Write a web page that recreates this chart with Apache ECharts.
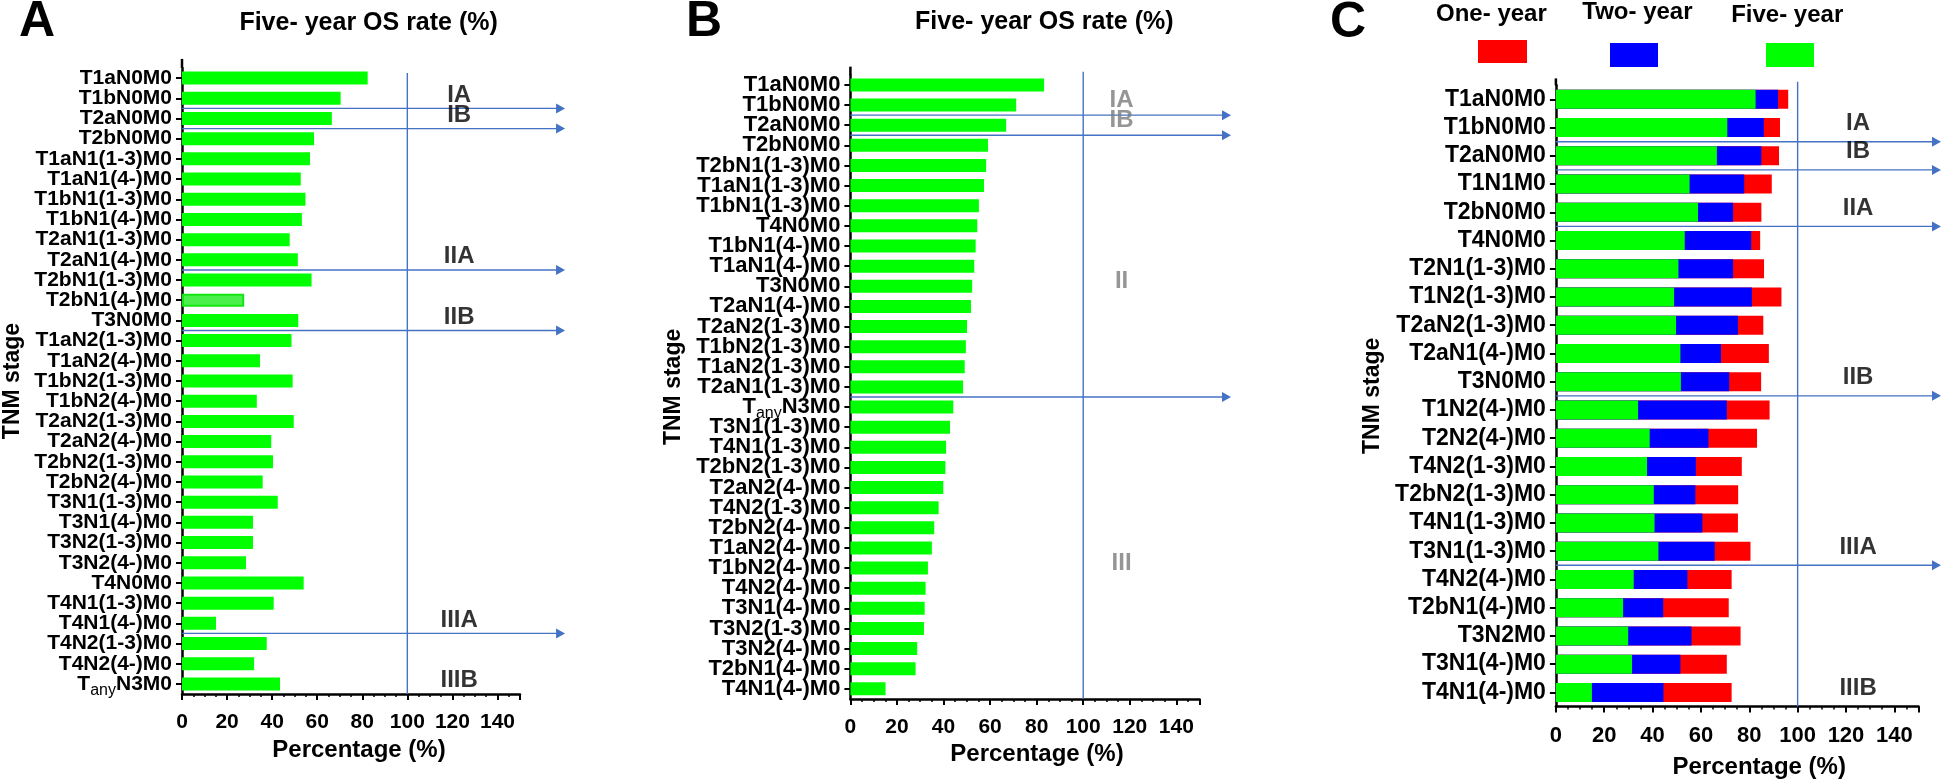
<!DOCTYPE html>
<html><head><meta charset="utf-8">
<script src="https://cdn.jsdelivr.net/npm/echarts/dist/echarts.min.js"></script>
<style>html,body{margin:0;padding:0;background:#fff}#chart{width:1946px;height:781px}</style>
</head><body><div id="chart"></div>
<script>
// ---------------- DATA ----------------
const categoriesA = ['T1aN0M0','T1bN0M0','T2aN0M0','T2bN0M0','T1aN1(1-3)M0','T1aN1(4-)M0','T1bN1(1-3)M0','T1bN1(4-)M0','T2aN1(1-3)M0','T2aN1(4-)M0','T2bN1(1-3)M0','T2bN1(4-)M0','T3N0M0','T1aN2(1-3)M0','T1aN2(4-)M0','T1bN2(1-3)M0','T1bN2(4-)M0','T2aN2(1-3)M0','T2aN2(4-)M0','T2bN2(1-3)M0','T2bN2(4-)M0','T3N1(1-3)M0','T3N1(4-)M0','T3N2(1-3)M0','T3N2(4-)M0','T4N0M0','T4N1(1-3)M0','T4N1(4-)M0','T4N2(1-3)M0','T4N2(4-)M0','TanyN3M0'];
const fiveYearA = [82.4,70.4,66.5,58.6,56.8,52.7,54.8,53.2,47.8,51.4,57.5,27.6,51.6,48.6,34.6,49.1,33.2,49.6,39.6,40.4,35.8,42.5,31.5,31.5,28.4,54.0,40.7,15.1,37.6,32.0,43.5];

const categoriesB = ['T1aN0M0','T1bN0M0','T2aN0M0','T2bN0M0','T2bN1(1-3)M0','T1aN1(1-3)M0','T1bN1(1-3)M0','T4N0M0','T1bN1(4-)M0','T1aN1(4-)M0','T3N0M0','T2aN1(4-)M0','T2aN2(1-3)M0','T1bN2(1-3)M0','T1aN2(1-3)M0','T2aN1(1-3)M0','TanyN3M0','T3N1(1-3)M0','T4N1(1-3)M0','T2bN2(1-3)M0','T2aN2(4-)M0','T4N2(1-3)M0','T2bN2(4-)M0','T1aN2(4-)M0','T1bN2(4-)M0','T4N2(4-)M0','T3N1(4-)M0','T3N2(1-3)M0','T3N2(4-)M0','T2bN1(4-)M0','T4N1(4-)M0'];
const fiveYearB = [83.2,71.2,66.9,59.1,58.3,57.4,55.2,54.5,53.8,53.2,52.3,51.8,50.1,49.6,49.1,48.4,44.2,42.8,41.1,40.8,39.9,37.9,36.0,35.0,33.3,32.3,31.9,31.6,28.7,28.0,15.1];

const categoriesC = ['T1aN0M0','T1bN0M0','T2aN0M0','T1N1M0','T2bN0M0','T4N0M0','T2N1(1-3)M0','T1N2(1-3)M0','T2aN2(1-3)M0','T2aN1(4-)M0','T3N0M0','T1N2(4-)M0','T2N2(4-)M0','T4N2(1-3)M0','T2bN2(1-3)M0','T4N1(1-3)M0','T3N1(1-3)M0','T4N2(4-)M0','T2bN1(4-)M0','T3N2M0','T3N1(4-)M0','T4N1(4-)M0'];
const fiveYearC = [82.6,70.9,66.6,55.3,58.8,53.3,50.7,48.9,49.7,51.5,51.7,34.0,38.8,37.7,40.5,40.8,42.4,32.2,27.8,29.9,31.5,14.9];
const twoYearC  = [91.9,86.0,85.0,77.9,73.3,80.8,73.3,81.1,75.3,68.3,71.7,70.7,63.1,57.9,57.7,60.6,65.7,54.4,44.4,56.1,51.5,44.5];
const oneYearC  = [96.1,92.7,92.3,89.3,85.0,84.5,86.1,93.3,85.8,88.1,84.9,88.4,83.2,76.9,75.4,75.3,80.5,72.7,71.5,76.4,70.7,72.7];

// stage boundaries: arrow drawn after this many categories
const stageBreaksA = [2,3,10,13,28];
const stageBreaksB = [2,3,16];
const stageBreaksC = [2,3,5,11,17];
// stage labels: [text, category row (1-based) the label sits on]
const stageLabelsA = [['IA',2],['IB',3],['IIA',10],['IIB',13],['IIIA',28],['IIIB',31]];
const stageLabelsB = [['IA',2],['IB',3],['II',11],['III',25]];
const stageLabelsC = [['IA',2],['IB',3],['IIA',5],['IIB',11],['IIIA',17],['IIIB',22]];

const seriesNamesC = ['One- year','Two- year','Five- year'];
const panelTitle = 'Five- year OS rate (%)';
const xTitle = 'Percentage (%)';
const yTitle = 'TNM stage';
const refValue = 100;

// ---------------- STYLE / LAYOUT ----------------
const FONT = '"Liberation Sans", Arial, Helvetica, sans-serif';
const LINE_BLUE = '#4472c4';
const panels = [
  {cats:categoriesA, grid:{left:182, top:68, width:338, height:626}, barW:13, labFs:21, tickFs:21, arrowTip:170, refTop:0.25, axisTop:-0.45,
   labelX:123, labelColor:'#000', lift:0.15, breaks:stageBreaksA, labels:stageLabelsA, yNameGap:158, xNameGap:44, xNamePad:16},
  {cats:categoriesB, grid:{left:850.4, top:74.9, width:349.2, height:624}, barW:13, labFs:22, tickFs:21, arrowTip:163.5, refTop:-0.16, axisTop:-0.41,
   labelX:116.5, labelColor:'#7a7a7a', lift:0.22, breaks:stageBreaksB, labels:stageLabelsB, yNameGap:165, xNameGap:43, xNamePad:24},
  {cats:categoriesC, grid:{left:1555.9, top:85.2, width:362.6, height:621.3}, barW:19, labFs:23, tickFs:22, arrowTip:159.3, refTop:-0.12, axisTop:-0.24,
   labelX:125, labelColor:'#000', lift:0.15, breaks:stageBreaksC, labels:stageLabelsC, yNameGap:172, xNameGap:49, xNamePad:44}
];

function catFormatter(v){
  return v.indexOf('Tany') === 0 ? '{m|T}{s|any}{m|' + v.slice(4) + '}' : v;
}

// arrow from x = 0 to x = tip at boundary value y
function renderArrow(params, api){
  const y = api.value(1);
  const p0 = api.coord([0, y]);
  const p1 = api.coord([api.value(0), y]);
  return {type:'group', children:[
    {type:'line', shape:{x1:p0[0], y1:p0[1], x2:p1[0]-8, y2:p1[1]}, style:{stroke:LINE_BLUE, lineWidth:1.4}},
    {type:'polygon', shape:{points:[[p1[0], p1[1]], [p1[0]-9, p1[1]-5], [p1[0]-9, p1[1]+5]]}, style:{fill:LINE_BLUE}}
  ]};
}
// vertical line at x from value y0 to value y1
function vLine(color, width){
  return function(params, api){
    const a = api.coord([api.value(0), api.value(1)]);
    const b = api.coord([api.value(0), api.value(2)]);
    return {type:'line', shape:{x1:a[0], y1:a[1], x2:b[0], y2:b[1]}, style:{stroke:color, lineWidth:width}};
  };
}

const grids = [], xAxes = [], yAxes = [], series = [];
panels.forEach((p, i) => {
  const n = p.cats.length;
  grids.push(Object.assign({containLabel:false, outerBoundsMode:'none'}, p.grid));
  xAxes.push({
    gridIndex:i, type:'value', min:0, max:150, interval:20, position:'bottom',
    axisLine:{show:true, onZero:false, lineStyle:{color:'#000', width:2.5}},
    axisTick:{show:true, length:6, lineStyle:{color:'#000', width:2}},
    minorTick:{show:true, splitNumber:4, length:3, lineStyle:{color:'#000', width:1.5}},
    splitLine:{show:false}, minorSplitLine:{show:false},
    axisLabel:{fontSize:p.tickFs, fontWeight:'bold', color:'#000', margin:18, fontFamily:FONT,
      formatter: v => (v > 145 ? '' : String(v))},
    name:xTitle, nameLocation:'middle', nameGap:p.xNameGap,
    nameTextStyle:{fontSize:24, fontWeight:'bold', color:'#000', fontFamily:FONT, padding:[0,0,0,p.xNamePad]}
  });
  yAxes.push({
    gridIndex:i, type:'category', data:p.cats, inverse:true, position:'left',
    axisLine:{show:true, onZero:false, lineStyle:{color:'#000', width:2.5}},
    axisTick:{show:true, alignWithLabel:true, length:6, lineStyle:{color:'#000', width:2}},
    splitLine:{show:false},
    axisLabel:{interval:0, fontSize:p.labFs, fontWeight:'bold', color:'#000', margin:10, fontFamily:FONT,
      formatter:catFormatter,
      rich:{
        m:{fontSize:p.labFs, fontWeight:'bold', color:'#000', fontFamily:FONT, lineHeight:30, verticalAlign:'middle'},
        s:{fontSize:16, fontWeight:'normal', color:'#000', fontFamily:FONT, lineHeight:14, verticalAlign:'bottom'}
      }},
    name:yTitle, nameLocation:'middle', nameGap:p.yNameGap, nameRotate:90,
    nameTextStyle:{fontSize:23, fontWeight:'bold', color:'#000', fontFamily:FONT}
  });
  yAxes.push({gridIndex:i, type:'value', min:0, max:n, inverse:true, show:false,
    axisLine:{show:false, onZero:false}, axisTick:{show:false}, axisLabel:{show:false}, splitLine:{show:false}});
  const valAx = 2*i+1;

  // stage arrows
  series.push({
    type:'custom', xAxisIndex:i, yAxisIndex:valAx, clip:false, silent:true, animation:false, z:5,
    renderItem:renderArrow, data:p.breaks.map(b => [p.arrowTip, b])
  });
  // reference line at 100 %
  series.push({
    type:'custom', xAxisIndex:i, yAxisIndex:valAx, clip:false, silent:true, animation:false, z:5,
    renderItem:vLine(LINE_BLUE, 1.4), encode:{x:0, y:[1,2]}, data:[[refValue, p.refTop, n]]
  });
  // y axis line continues a little above the first category
  series.push({
    type:'custom', xAxisIndex:i, yAxisIndex:valAx, clip:false, silent:true, animation:false, z:5,
    renderItem:vLine('#000', 2.5), encode:{x:0, y:[1,2]}, data:[[0, p.axisTop, 0]]
  });
  // stage labels
  series.push({
    type:'scatter', xAxisIndex:i, yAxisIndex:valAx, clip:false, silent:true, animation:false, z:6,
    symbolSize:1, itemStyle:{color:'rgba(0,0,0,0)'},
    data:p.labels.map(([t,row]) => ({name:t, value:[p.labelX, row - 0.5 - p.lift]})),
    label:{show:true, position:'inside', formatter:'{b}', fontSize:24, fontWeight:'bold', color:p.labelColor, fontFamily:FONT}
  });
});

// bars
series.push({
  type:'bar', xAxisIndex:0, yAxisIndex:0, barWidth:panels[0].barW, silent:true, animation:false, z:3,
  itemStyle:{color:'#00ff00'},
  data:fiveYearA.map((v,j) => j === 11 ? {value:v, itemStyle:{color:'#4cf04c', borderColor:'#14e614', borderWidth:2}} : v)
});
series.push({
  type:'bar', xAxisIndex:1, yAxisIndex:2, barWidth:panels[1].barW, silent:true, animation:false, z:3,
  itemStyle:{color:'#00ff00'}, data:fiveYearB
});
const colorsC = ['#ff0000','#0000ff','#00ff00'];
[oneYearC, twoYearC, fiveYearC].forEach((arr, k) => {
  series.push({
    name:seriesNamesC[k], type:'bar', xAxisIndex:2, yAxisIndex:4, barWidth:panels[2].barW, barGap:'-100%',
    silent:true, animation:false, z:3, itemStyle:{color:colorsC[k]}, data:arr
  });
});

function txt(t, x, y, size){
  return {type:'text', x:x, y:y, silent:true,
    style:{text:t, fontSize:size, fontWeight:'bold', fontFamily:FONT, fill:'#000',
      align:'center', verticalAlign:'middle', textAlign:'center', textVerticalAlign:'middle'}};
}

const legendBase = {icon:'rect', padding:0, itemGap:0, selectedMode:false, formatter:() => '', textStyle:{fontSize:1}};
const option = {
  backgroundColor:'#fff',
  animation:false,
  textStyle:{fontFamily:FONT},
  grid:grids, xAxis:xAxes, yAxis:yAxes, series:series,
  legend:[
    Object.assign({data:[seriesNamesC[0]], left:1478, top:40, itemWidth:49, itemHeight:23}, legendBase),
    Object.assign({data:[seriesNamesC[1]], left:1610, top:43, itemWidth:48, itemHeight:24}, legendBase),
    Object.assign({data:[seriesNamesC[2]], left:1766, top:43, itemWidth:48, itemHeight:24}, legendBase)
  ],
  graphic:[
    txt('A', 37, 22, 50), txt('B', 704, 22, 50), txt('C', 1348, 23, 50),
    txt(panelTitle, 368.6, 22.7, 25), txt(panelTitle, 1044.3, 21.7, 25),
    txt(seriesNamesC[0], 1491.4, 14, 24), txt(seriesNamesC[1], 1637.4, 12.5, 24), txt(seriesNamesC[2], 1787.2, 15, 24)
  ]
};
const chart = echarts.init(document.getElementById('chart'));
chart.setOption(option);
</script>
</body></html>
